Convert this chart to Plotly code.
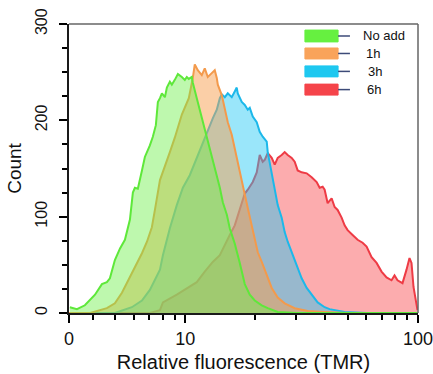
import plotly.graph_objects as go

# ---------------- data ----------------
series_names = ["No add", "1h", "3h", "6h"]

noadd_x = [3.19, 3.42, 3.70, 4.09, 4.38, 4.60, 4.74, 4.98, 5.24, 5.50, 5.78, 5.95, 6.07, 6.25,
           6.51, 6.70, 7.04, 7.25, 7.47, 7.62, 7.78, 7.93, 8.17, 8.33, 8.58, 8.75, 9.01, 9.29,
           9.66, 9.95, 10.15, 10.35, 10.66, 10.77, 11.20, 11.54, 11.89, 12.37, 12.74, 13.12,
           13.65, 14.07, 14.49, 15.08, 15.52, 16.31, 17.14, 18.01, 18.92, 19.88, 21.30, 22.60,
           24.95, 30.0, 60.0, 100.0]
noadd_y = [6, 4, 8, 19, 30, 32, 36, 55, 67, 76, 97, 125, 130, 129,
           148, 162, 174, 183, 195, 219, 223, 228, 224, 234, 240, 237, 242, 248,
           245, 242, 245, 243, 245, 239, 223, 211, 198, 182, 171, 157,
           143, 130, 115, 102, 88, 72, 52, 30, 19, 13, 8, 5,
           1, 0, 0, 0]

h1_x = [3.16, 3.90, 4.60, 4.98, 5.34, 5.61, 5.89, 6.19, 6.51, 6.84, 7.18, 7.40, 7.62, 7.78,
        8.58, 9.01, 9.66, 9.95, 10.35, 10.77, 10.98, 11.31, 11.77, 12.12, 12.49, 12.99, 13.38,
        13.65, 13.79, 14.35, 14.78, 15.22, 15.83, 16.31, 16.80, 17.48, 18.01, 18.55, 19.29,
        19.88, 20.48, 21.30, 22.38, 23.51, 24.95, 26.73, 29.51, 33.56, 39.70, 50.0, 100.0]
h1_y = [0, 0, 5, 10, 21, 31, 42, 52, 62, 74, 89, 107, 128, 138,
        167, 182, 206, 213, 223, 244, 258, 252, 247, 254, 245, 249, 252,
        244, 237, 226, 213, 198, 185, 170, 156, 137, 123, 109, 91,
        74, 63, 53, 39, 26, 16, 10, 5, 2, 1, 0, 0]

h3_x = [3.16, 4.98, 5.89, 6.51, 7.04, 7.40, 7.78, 8.01, 8.58, 9.19, 9.76, 10.45, 11.20, 11.89,
        12.49, 13.12, 13.65, 14.07, 14.35, 14.78, 15.22, 15.83, 16.31, 16.63, 16.80, 17.48,
        18.01, 18.55, 18.92, 19.49, 20.27, 20.88, 21.51, 22.38, 22.60, 23.51, 24.22, 24.95,
        25.95, 26.73, 27.54, 28.65, 30.10, 31.62, 33.23, 34.91, 37.05, 39.70, 41.71, 48.37,
        60.0, 100.0]
h3_y = [0, 0, 6, 13, 24, 34, 45, 60, 88, 112, 130, 143, 161, 178,
        190, 202, 211, 223, 227, 224, 228, 224, 230, 234, 228, 219,
        216, 211, 213, 204, 198, 188, 183, 178, 167, 146, 130, 112,
        99, 84, 74, 63, 50, 36, 26, 19, 11, 6, 4, 1,
        0, 0]

h6_x = [3.16, 7.04, 7.78, 8.01, 9.19, 10.15, 11.20, 12.12, 13.12, 14.07, 14.78, 15.52, 16.31,
        17.14, 18.01, 18.55, 19.49, 20.27, 20.88, 21.51, 21.94, 22.60, 23.51, 24.22, 24.95,
        25.95, 26.73, 27.54, 28.65, 29.51, 30.40, 31.62, 33.23, 34.91, 36.68, 37.79, 38.92,
        39.70, 40.89, 42.54, 43.82, 45.14, 46.96, 48.37, 49.83, 52.35, 55.01, 57.80, 60.12,
        63.17, 66.37, 69.72, 73.26, 76.96, 79.28, 81.66, 85.79, 89.26, 91.94, 93.78, 95.66, 99.5]
h6_y = [0, 0, 3, 11, 19, 26, 32, 43, 53, 60, 71, 81, 91,
        108, 124, 128, 136, 146, 164, 157, 159, 166, 161, 154, 161,
        164, 167, 164, 161, 157, 148, 146, 145, 141, 136, 130, 131,
        128, 114, 119, 110, 107, 99, 91, 86, 81, 76, 73, 69,
        58, 52, 43, 37, 34, 39, 34, 31, 45, 57, 52, 27, 3]

x_tick_vals = [3.163, 10, 99.98]
x_tick_text = ["0", "10", "100"]
x_minor_vals = [4, 5, 6, 7, 8, 9, 20, 30, 40, 50, 60, 70, 80, 90]
y_tick_vals = [0, 100, 200, 299.9]
y_tick_text = ["0", "100", "200", "300"]

# ---------------- styles ----------------
line_colors = ["#5EE83A", "#F39A4C", "#1CB8EA", "#EE3B45"]
fill_colors = ["rgba(110,240,75,0.45)", "rgba(247,160,80,0.5)",
               "rgba(30,200,245,0.45)", "rgba(248,70,75,0.45)"]
swatch_colors = ["#66F040", "#F9A35A", "#1EC8F0", "#F5444A"]

xs = [noadd_x, h1_x, h3_x, h6_x]
ys = [noadd_y, h1_y, h3_y, h6_y]

FONT = "Liberation Sans, Arial, sans-serif"

fig = go.Figure()
# draw 6h first (bottom) and No add last (top)
for i in [3, 2, 1, 0]:
    fig.add_trace(go.Scatter(
        x=xs[i], y=ys[i], mode="lines", name=series_names[i],
        line=dict(color=line_colors[i], width=2),
        fill="tozeroy", fillcolor=fill_colors[i], showlegend=False,
        hoverinfo="skip"))

# thin grey frame along top and right of the plot area
frame = dict(color="#666666", width=1.5)
shapes = [
    dict(type="line", xref="x domain", yref="y domain", x0=0, x1=1, y0=1, y1=1,
         line=frame, layer="above"),
    dict(type="line", xref="x domain", yref="y domain", x0=1, x1=1, y0=0, y1=1,
         line=frame, layer="above"),
]
annotations = []

# manual legend
sw_x0, sw_x1, ln_x1 = 0.676, 0.771, 0.805
sw_rows = [(0.938, 0.979), (0.879, 0.917), (0.817, 0.855), (0.754, 0.792)]
txt_x = [0.838, 0.845, 0.851, 0.848]
for i, (y0, y1) in enumerate(sw_rows):
    shapes.append(dict(type="rect", xref="paper", yref="paper", x0=sw_x0, x1=sw_x1,
                       y0=y0, y1=y1, fillcolor=swatch_colors[i],
                       line=dict(color=swatch_colors[i], width=1), layer="above"))
    ym = (y0 + y1) / 2
    shapes.append(dict(type="line", xref="paper", yref="paper", x0=sw_x1, x1=ln_x1,
                       y0=ym, y1=ym, line=dict(color="#3C4A78", width=1.5), layer="above"))
    annotations.append(dict(xref="paper", yref="paper", x=txt_x[i], y=ym,
                            text=series_names[i], showarrow=False, xanchor="left",
                            yanchor="middle", font=dict(family=FONT, size=13, color="#111111")))

fig.update_layout(
    width=433, height=374,
    margin=dict(l=69, r=15, t=24, b=61),
    paper_bgcolor="white", plot_bgcolor="white",
    font=dict(family=FONT, color="#111111"),
    shapes=shapes, annotations=annotations,
    xaxis=dict(
        type="log", range=[0.5, 2.0], automargin=False,
        tickmode="array", tickvals=x_tick_vals, ticktext=x_tick_text,
        ticklabeloverflow="allow",
        ticks="outside", ticklen=8, tickwidth=2, tickcolor="black",
        showline=True, linecolor="#1a1a1a", linewidth=2,
        showgrid=False, zeroline=False,
        tickfont=dict(size=18, family=FONT, color="#111111"),
        minor=dict(tickmode="array", tickvals=x_minor_vals, ticks="outside",
                   ticklen=5, tickwidth=1.5, tickcolor="black", showgrid=False),
        title=dict(text="Relative fluorescence (TMR)", standoff=7,
                   font=dict(size=20, family=FONT, color="#111111")),
    ),
    yaxis=dict(
        range=[0, 300], automargin=False,
        tickmode="array", tickvals=y_tick_vals, ticktext=y_tick_text, tickangle=-90,
        ticklabeloverflow="allow", ticklabelstandoff=6,
        ticks="outside", ticklen=8, tickwidth=2, tickcolor="black",
        showline=True, linecolor="#1a1a1a", linewidth=2,
        showgrid=False, zeroline=False,
        tickfont=dict(size=16, family=FONT, color="#111111"),
        minor=dict(dtick=25, tick0=0, ticks="outside", ticklen=5, tickwidth=1.5,
                   tickcolor="black", showgrid=False),
        title=dict(text="Count", standoff=6,
                   font=dict(size=19, family=FONT, color="#111111")),
    ),
)

# remove the page's default 8px body margin so the figure fills the window exactly
fig.write_html("out.html",
               config={"displayModeBar": False},
               post_script="document.body.style.margin='0';document.body.style.overflow='hidden';")
